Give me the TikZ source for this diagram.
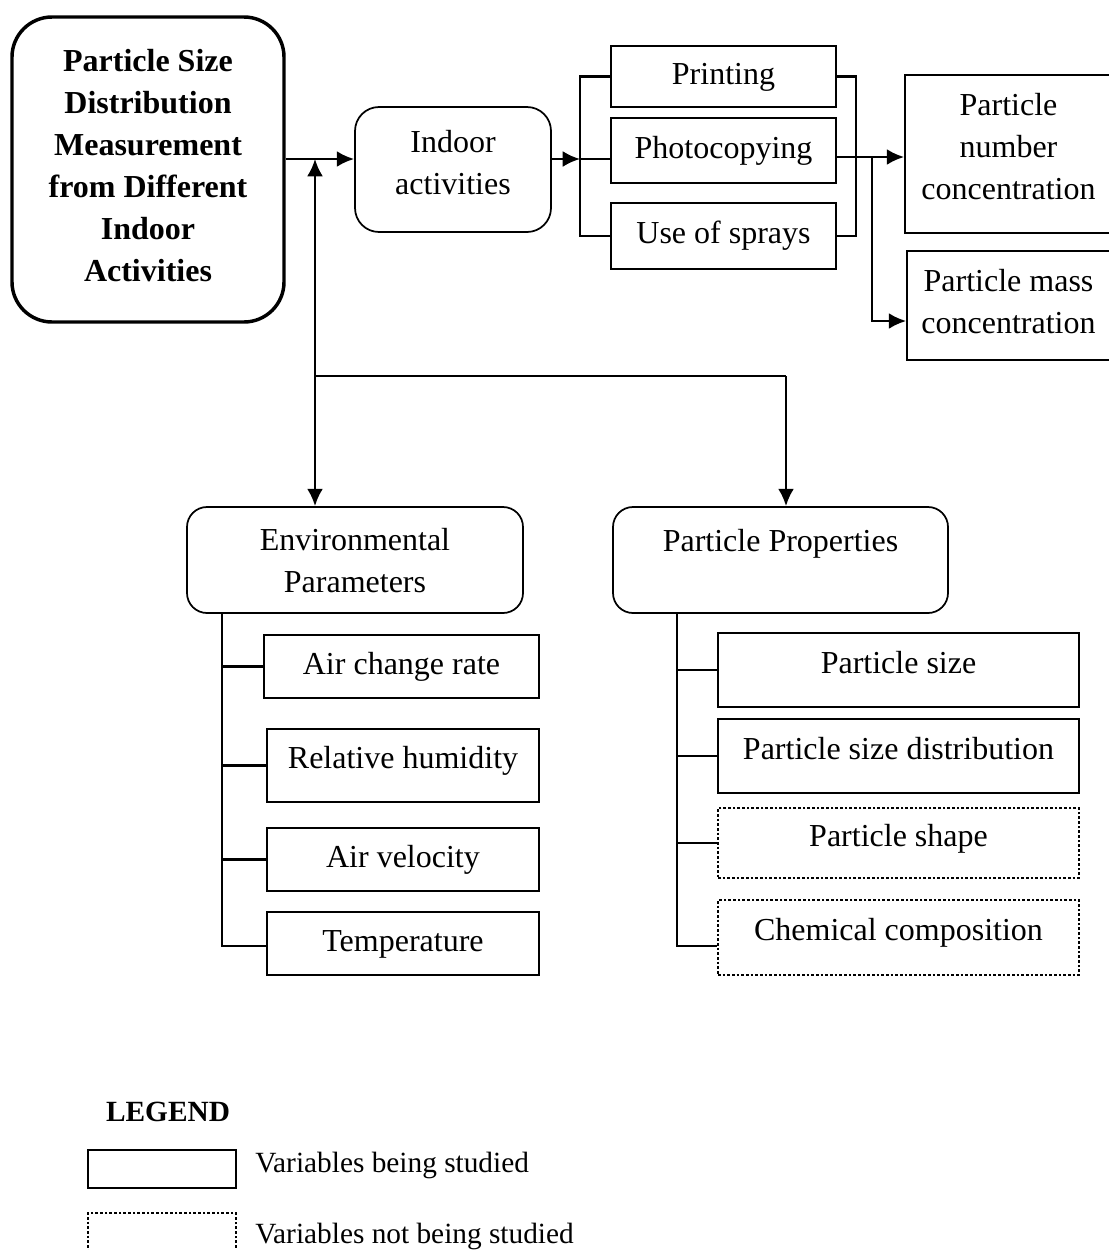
\documentclass[tikz,border=0pt]{standalone}
\usepackage{fontspec}
\setmainfont{Liberation Serif}
\usetikzlibrary{arrows.meta,calc}
\begin{document}
\begin{tikzpicture}[x=0.75pt,y=-0.75pt,
  font=\fontsize{24}{31.5}\selectfont,
  wh/.style 2 args={minimum width=#1*0.75pt, minimum height=#2*0.75pt},
  box/.style={draw, line width=1.3pt, inner sep=0pt, align=center},
  one/.style={text height=0.7em+5pt, text depth=0.5pt},
  lift/.style={text height=0.7em, text depth=0.25em-0.5pt},
  rbox/.style={box, rounded corners=15pt},
  dbox/.style={box, line width=0.8pt, dash pattern=on 2pt off 1.5pt},
  conn/.style={line width=1.9pt},
  tipx/.tip={Latex[length=13pt,width=12pt]},
  arr/.style={conn, -tipx},
  darr/.style={conn, tipx-tipx},
  legtext/.style={anchor=west, inner sep=0pt, font=\fontsize{22}{28}\selectfont}
]
\clip (0,0) rectangle (1109,1250);

% main nodes
\node[rbox, wh={272}{305}, line width=2.6pt, rounded corners=30pt, text depth=6pt,
      font=\fontsize{24}{31.5}\selectfont\bfseries] (main) at (148,169.5)
  {Particle Size\\Distribution\\Measurement\\from Different\\Indoor\\Activities};
\node[rbox, wh={196}{125}, rounded corners=18pt, text depth=10.5pt] (indoor) at (453,169.5) {Indoor\\activities};

\node[box, one, wh={225}{61}] (print) at (723.5,76.5) {Printing};
\node[box, one, wh={225}{65}] (photo) at (723.5,150.5) {Photocopying};
\node[box, one, wh={225}{66}] (spray) at (723.5,236) {Use of sprays};

\node[box, wh={207}{158}, text depth=12pt] (num) at (1008.5,154) {Particle\\number\\concentration};
\node[box, wh={203}{109}, text depth=6pt] (mass) at (1008.5,305.5) {Particle mass\\concentration};

\node[rbox, wh={336}{106}, text depth=-7.5pt] (env) at (355,560) {Environmental\\Parameters};
\node[rbox, wh={335}{106}, text height=0.7em, text depth=19.5pt] (pp) at (780.5,560) {Particle Properties};

% environmental children
\node[box, one, wh={275}{63}] (acr) at (401.5,666.5) {Air change rate};
\node[box, lift, wh={272}{73}] (rh) at (403,765.5) {Relative humidity};
\node[box, one, wh={272}{63}] (av) at (403,859.5) {Air velocity};
\node[box, one, wh={272}{63}] (temp) at (403,943.5) {Temperature};

% particle property children
\node[box, lift, wh={361}{74}] (ps) at (898.5,670) {Particle size};
\node[box, lift, wh={361}{74}] (psd) at (898.5,756) {Particle size distribution};
\node[dbox, lift, wh={361}{70}] (shape) at (898.5,843) {Particle shape};
\node[dbox, lift, wh={361}{75}] (chem) at (898.5,937.5) {Chemical composition};

% junction coordinates
\coordinate (j1) at (315,159);
\coordinate (j2) at (315,376);
\coordinate (j3) at (786,376);
\coordinate (b1) at (580,159);
\coordinate (r1) at (856,157);
\coordinate (r2) at (872,157);
\coordinate (r3) at (872,321);
\coordinate (ex) at (222,946);
\coordinate (px) at (677,946);

% connectors: top
\draw[arr] (main.east |- j1) -- (indoor.west |- j1);
\draw[darr] (j1) -- (env.north -| j1);
\draw[conn] (j2) -- (j3);
\draw[arr] (j3) -- (pp.north -| j3);

\draw[arr] (indoor.east |- b1) -- (b1);
\draw[conn] (print.west) -| (b1) |- (spray.west);
\draw[conn] (b1) -- (photo.west |- b1);

\draw[conn] (print.east) -| (r1) |- (spray.east);
\draw[arr] (photo.east |- r1) -- (num.west |- r1);
\draw[arr] (r2) -- (r3) -- (mass.west |- r3);

% environmental bracket
\draw[conn] (env.south -| ex) -- (ex) -- (temp.west |- ex);
\draw[conn] (ex |- acr.west) -- (acr.west);
\draw[conn] (ex |- rh.west) -- (rh.west);
\draw[conn] (ex |- av.west) -- (av.west);

% particle properties bracket
\draw[conn] (pp.south -| px) -- (px) -- (chem.west |- px);
\draw[conn] (px |- ps.west) -- (ps.west);
\draw[conn] (px |- psd.west) -- (psd.west);
\draw[conn] (px |- shape.west) -- (shape.west);

% legend
\node[inner sep=0pt, font=\fontsize{22}{28}\selectfont\bfseries] (leg) at (168,1112) {LEGEND};
\node[box, wh={148}{38}] (ls) at (162,1169) {};
\node[dbox, wh={148}{50}] (ld) at (162,1238) {};
\node[legtext] (lst) at (255,1165) {Variables being studied};
\node[legtext] (ldt) at (255,1236.5) {Variables not being studied};
\end{tikzpicture}
\end{document}
